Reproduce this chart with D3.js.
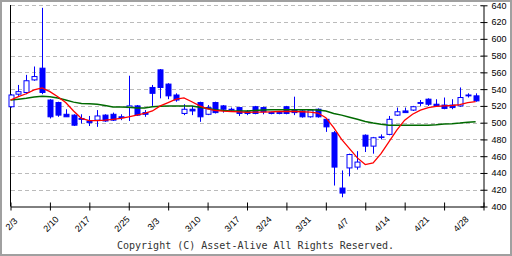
<!doctype html>
<head>
	<title>Candle chart</title>
	<script src="https://d3js.org/d3.v7.min.js"></script>
	<style>
		body { margin: 0; background: #fff; }
	</style>
</head>
<body>
	<svg id="chart" width="512" height="256"></svg>
	<script>
		// daily candles, 60 sessions
		let opens  = [519,534,536,551,565,527,524,510,509,505,502,503,509,510,507,518,520,512,542,563,546,533,511,516,524,510,524,520,516,518,513,519,518,512,512,519,515,514,507,516,504,488,422,446,447,485,472,483,486,509,514,515,524,528,522,521,521,520,533,532]
		let highs  = [534,545,557,567,637,528,525,516,510,510,508,515,510,512,510,556,521,515,545,564,547,535,522,520,525,521,525,521,518,519,515,520,519,513,514,520,531,515,516,517,505,490,443,463,466,486,483,486,508,518,518,520,527,529,528,530,528,542,535,535]
		let lows   = [518,532,534,550,534,505,507,507,496,499,496,495,501,502,503,502,508,507,520,529,528,525,509,509,501,509,511,512,513,508,509,510,510,510,510,510,509,506,506,506,489,425,411,436,444,465,463,480,485,508,512,514,520,520,519,516,516,519,530,525]
		let closes = [533,537,550,555,536,507,509,507,497,504,500,508,502,503,506,520,509,510,535,542,532,527,516,514,507,518,512,516,515,511,511,511,513,511,511,511,512,507,515,507,495,447,416,462,453,472,482,483,504,513,512,519,523,522,520,517,518,530,532,526]

		// moving averages
		let maShort = [527,531,534.5,539,541.5,537,531,524,514,505,502.5,502.5,503,504,505,507,509,511,514,520,524,528,529.5,525,520,516.5,514.5,513.7,513.3,512.8,512.3,512.5,512.5,512.8,513.3,513.3,513.3,513,512.5,511.5,506,494,480,469,458,450,452,463,477,491,503,510,515,518,519.5,520,520.5,521.5,524,525]
		let maLong  = [527,528,529,530.5,531.5,531,529.5,527,524.5,523,522.5,522,520.5,518.8,518.6,518.5,517.5,517.5,519,519.5,520,520,520,520,518.5,517,515.5,514.5,514,514,514,514.5,515,515.4,515.4,515.4,515.4,515.4,515.4,515.2,514,511,509,506.5,504,501.5,499.5,498,497,497,497,497,497,497,497.5,498.5,498.8,499.5,500.5,501]

		// tick marks every 5 sessions, date labels sit on their own session
		let tickIndex = [0,5,10,15,20,25,30,35,40,45,50,55,60]
		let labelIndex = [0,5,9,14,18,23,28,32,37,42,47,52,57]
		let tickLabels = ["2/3","2/10","2/17","2/25","3/3","3/10","3/17","3/24","3/31","4/7","4/14","4/21","4/28"]
		let yTicks = [400,420,440,460,480,500,520,540,560,580,600,620,640]

		const svg = d3.select("#chart")
		const x = d3.scaleLinear().domain([0, 60]).range([10.5, 483.5])
		const y = d3.scaleLinear().domain([400, 640]).range([206.5, 5.3])
		const blue = "#0000ff"

		// outer frame
		svg.append("rect").attr("x", 1).attr("y", 1).attr("width", 510).attr("height", 254)
			.attr("fill", "#fff").attr("stroke", "#a0a0a0").attr("stroke-width", 2)

		// grid
		svg.append("g").selectAll("line").data(yTicks.filter(d => d > 400)).join("line")
			.attr("x1", 11).attr("x2", 483)
			.attr("y1", d => Math.round(y(d)) + 0.5).attr("y2", d => Math.round(y(d)) + 0.5)
			.attr("stroke", "#bbb").attr("stroke-dasharray", "4,3")

		// left frame line
		svg.append("line").attr("x1", 10.5).attr("x2", 10.5).attr("y1", 5).attr("y2", 206.5)
			.attr("stroke", "#000")

		// right axis
		const yAxis = d3.axisRight(y).tickValues(yTicks).tickSizeInner(4).tickSizeOuter(0).tickPadding(4)
		const gy = svg.append("g").attr("transform", "translate(483.5,0)").call(yAxis)
		gy.select(".domain").attr("stroke", "#000")
		gy.selectAll(".tick line").attr("x1", -3).attr("stroke", "#000")
		gy.selectAll(".tick text").attr("font-family", "Liberation Sans").attr("font-size", 9).attr("fill", "#000")

		// bottom axis
		const xAxis = d3.axisBottom(x).tickValues(tickIndex).tickFormat("")
			.tickSizeInner(4).tickSizeOuter(0)
		const gx = svg.append("g").attr("transform", "translate(0,206.5)").call(xAxis)
		gx.select(".domain").attr("stroke", "#000")
		gx.selectAll(".tick line").attr("y1", -4).attr("stroke", "#000")

		svg.append("g").selectAll("text").data(labelIndex).join("text")
			.attr("transform", d => `translate(${x(d) + 1},224) rotate(-45)`)
			.attr("text-anchor", "middle").attr("dy", "0.35em")
			.attr("font-family", "Liberation Sans").attr("font-size", 9).attr("fill", "#000")
			.text((d, i) => tickLabels[i])

		// candles
		let idx = d3.range(opens.length)
		const candles = svg.append("g").selectAll("g").data(idx).join("g")
		candles.append("line")
			.attr("x1", i => Math.round(x(i)) + 0.5).attr("x2", i => Math.round(x(i)) + 0.5)
			.attr("y1", i => y(highs[i])).attr("y2", i => y(lows[i]))
			.attr("stroke", blue)
		candles.append("rect")
			.attr("x", i => Math.round(x(i)) - 2)
			.attr("y", i => y(Math.max(opens[i], closes[i])))
			.attr("width", 5)
			.attr("height", i => Math.max(0.5, Math.abs(y(opens[i]) - y(closes[i]))))
			.attr("fill", i => closes[i] > opens[i] ? "#fff" : blue)
			.attr("stroke", blue)

		// moving averages
		const line = d3.line().x((d, i) => x(i)).y(d => y(d))
		svg.append("path").datum(maLong).attr("d", line)
			.attr("fill", "none").attr("stroke", "#006a00").attr("stroke-width", 1.5)
		svg.append("path").datum(maShort).attr("d", line)
			.attr("fill", "none").attr("stroke", "#ff0000").attr("stroke-width", 1.3)

		svg.append("text").attr("x", 117).attr("y", 249)
			.attr("font-family", "DejaVu Sans Mono").attr("font-size", 10).attr("fill", "#333")
			.text("Copyright (C) Asset-Alive All Rights Reserved.")
	</script>
</body>
